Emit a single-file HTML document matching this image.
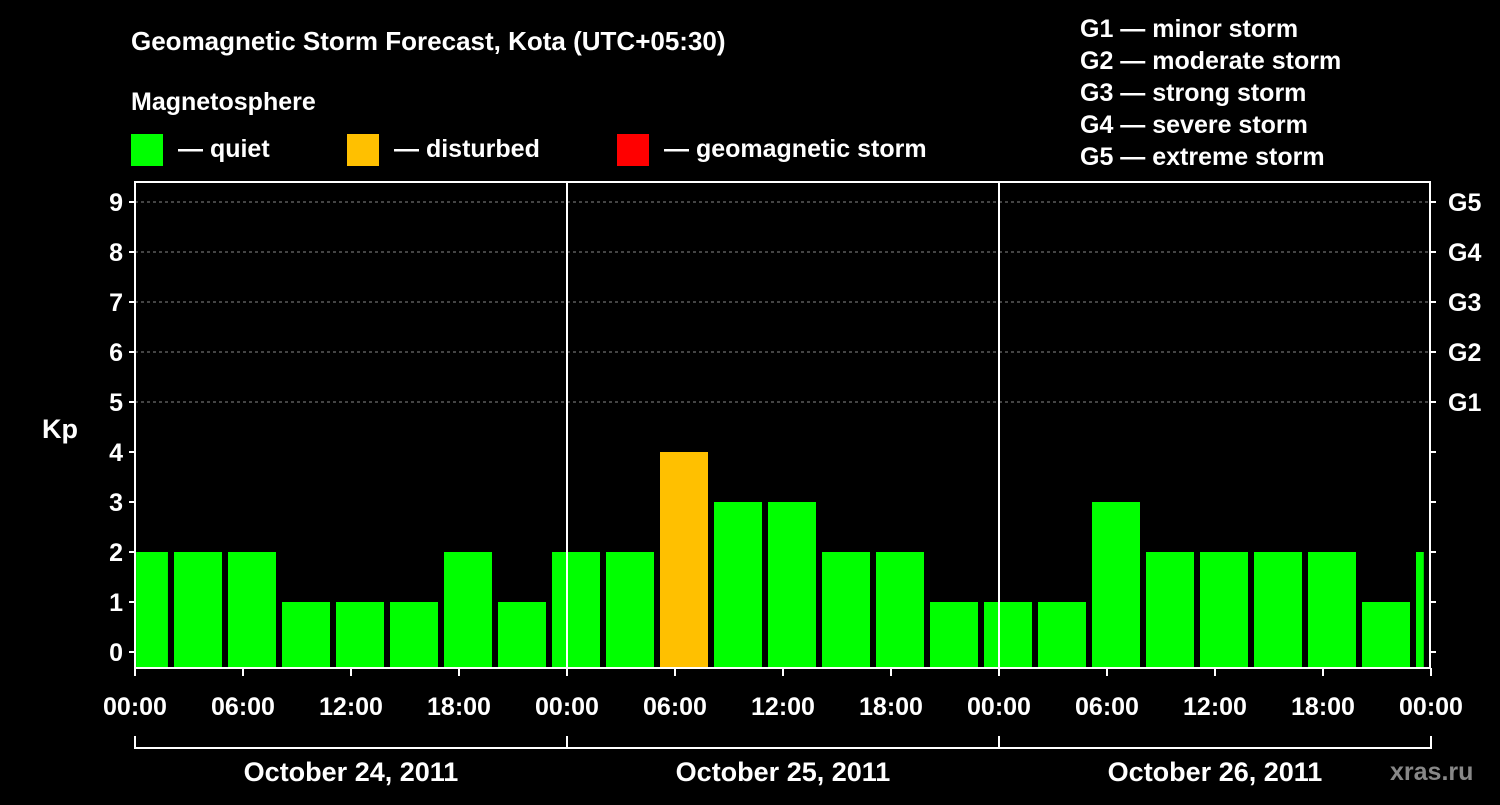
<!DOCTYPE html>
<html><head><meta charset="utf-8"><style>
body{margin:0;background:#000;width:1500px;height:800px;overflow:hidden}
svg text{font-family:"Liberation Sans",sans-serif;font-weight:bold;fill:#fff}
</style></head><body>
<svg id="chart" width="1500" height="800" xmlns="http://www.w3.org/2000/svg">
<text x="131" y="50" font-size="26">Geomagnetic Storm Forecast, Kota (UTC+05:30)</text>
<text x="131" y="110" font-size="25">Magnetosphere</text>
<rect x="131" y="134" width="32" height="32" fill="#00ff00"/>
<text x="178" y="157" font-size="25">— quiet</text>
<rect x="347" y="134" width="32" height="32" fill="#ffc000"/>
<text x="394" y="157" font-size="25">— disturbed</text>
<rect x="617" y="134" width="32" height="32" fill="#ff0000"/>
<text x="664" y="157" font-size="25">— geomagnetic storm</text>
<g font-size="25">
<text x="1080" y="37">G1 — minor storm</text>
<text x="1080" y="69">G2 — moderate storm</text>
<text x="1080" y="101">G3 — strong storm</text>
<text x="1080" y="133">G4 — severe storm</text>
<text x="1080" y="165">G5 — extreme storm</text>
</g>
<text x="42" y="438" font-size="27">Kp</text>
<text x="1390" y="780" font-size="25" fill="#888" style="fill:#888">xras.ru</text>
<g id="plot"></g>
</svg>
<script>
const kpValues=[2,2,2,1,1,1,2,1,2,2,4,3,3,2,2,1,1,1,3,2,2,2,2,1,2];
const yTicks=[0,1,2,3,4,5,6,7,8,9];
const gLabels=["G1","G2","G3","G4","G5"];
const xTickLabels=["00:00","06:00","12:00","18:00","00:00","06:00","12:00","18:00","00:00","06:00","12:00","18:00","00:00"];
const dateLabels=["October 24, 2011","October 25, 2011","October 26, 2011"];
const NS="http://www.w3.org/2000/svg";
const X0=135,HPX=18,Y0=652,KPX=50,TOP=182,BOT=668,RIGHT=1430;
const xs=h=>X0+h*HPX, ys=v=>Y0-v*KPX;
const g=document.getElementById('plot');
function mk(t,a,txt){const e=document.createElementNS(NS,t);for(const k in a)e.setAttribute(k,a[k]);if(txt!==undefined)e.textContent=txt;g.appendChild(e);return e;}
// grid
for(let v=5;v<=9;v++){const l=mk('line',{x1:X0,x2:RIGHT,y1:ys(v),y2:ys(v),stroke:'#888','stroke-dasharray':'3,3'});

}
// bars
kpValues.forEach((v,i)=>{let h0,h1;
 if(i===0){h0=0.06;h1=1.83;}else{h0=39/18+3*(i-1);h1=Math.min(h0+48/18,71.6);}
 const r=mk('rect',{x:xs(h0),y:ys(v),width:xs(h1)-xs(h0),height:BOT-ys(v),fill:v>=5?'#ff0000':v>=4?'#ffc000':'#00ff00'});
 
 });
// day separators
[24,48].forEach(h=>{const l=mk('line',{x1:xs(h),x2:xs(h),y1:TOP,y2:BOT,stroke:'#fff','stroke-width':2});

});
// frame
const fr=mk('rect',{x:X0,y:TOP,width:RIGHT-X0,height:BOT-TOP,fill:'none',stroke:'#fff','stroke-width':2});


// y ticks
yTicks.forEach(v=>{mk('line',{x1:X0-6,x2:X0,y1:ys(v),y2:ys(v),stroke:'#fff','stroke-width':2});
 mk('line',{x1:RIGHT,x2:RIGHT+6,y1:ys(v),y2:ys(v),stroke:'#fff','stroke-width':2});
 const t=mk('text',{x:X0-12,y:ys(v)+9,'font-size':25,'text-anchor':'end'},String(v));
 
 });
gLabels.forEach((s,i)=>{const t=mk('text',{x:RIGHT+18,y:ys(5+i)+9,'font-size':25},s);
 
 });
// x ticks
xTickLabels.forEach((s,i)=>{const x=xs(i*6);
 mk('line',{x1:x,x2:x,y1:BOT,y2:BOT+8,stroke:'#fff','stroke-width':2});
 const t=mk('text',{x:x,y:715,'font-size':25,'text-anchor':'middle'},s);
 
 });
// date bracket
mk('line',{x1:X0,x2:RIGHT,y1:748,y2:748,stroke:'#fff','stroke-width':2});
[0,24,48,72].forEach(h=>mk('line',{x1:xs(h),x2:xs(h),y1:736,y2:749,stroke:'#fff','stroke-width':2}));
dateLabels.forEach((s,i)=>{const t=mk('text',{x:xs(12+24*i),y:781,'font-size':27,'text-anchor':'middle'},s);
 
 });
</script>
</body></html>
